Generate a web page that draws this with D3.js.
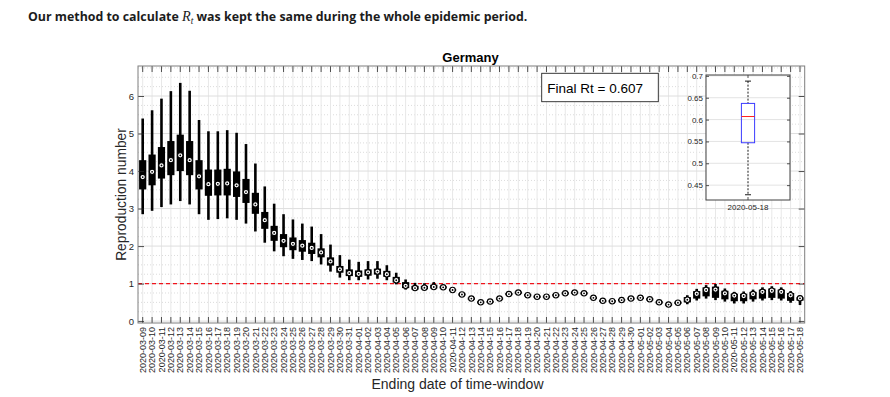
<!DOCTYPE html>
<html><head><meta charset="utf-8">
<script src="https://cdn.jsdelivr.net/npm/d3@7"></script>
<style>body{margin:0;background:#fff;} svg{display:block;}</style>
</head><body>
<svg id="c" width="890" height="397"></svg>
<script>
// ---------- data ----------
const dates = ["2020-03-09","2020-03-10","2020-03-11","2020-03-12","2020-03-13","2020-03-14","2020-03-15","2020-03-16","2020-03-17","2020-03-18",
"2020-03-19","2020-03-20","2020-03-21","2020-03-22","2020-03-23","2020-03-24","2020-03-25","2020-03-26","2020-03-27","2020-03-28",
"2020-03-29","2020-03-30","2020-03-31","2020-04-01","2020-04-02","2020-04-03","2020-04-04","2020-04-05","2020-04-06","2020-04-07",
"2020-04-08","2020-04-09","2020-04-10","2020-04-11","2020-04-12","2020-04-13","2020-04-14","2020-04-15","2020-04-16","2020-04-17",
"2020-04-18","2020-04-19","2020-04-20","2020-04-21","2020-04-22","2020-04-23","2020-04-24","2020-04-25","2020-04-26","2020-04-27",
"2020-04-28","2020-04-29","2020-04-30","2020-05-01","2020-05-02","2020-05-03","2020-05-04","2020-05-05","2020-05-06","2020-05-07",
"2020-05-08","2020-05-09","2020-05-10","2020-05-11","2020-05-12","2020-05-13","2020-05-14","2020-05-15","2020-05-16","2020-05-17","2020-05-18"];
const whiskerHigh = [5.40,5.62,5.93,6.13,6.35,6.14,5.36,5.06,5.06,5.09,
5.02,4.72,4.20,3.59,3.13,2.85,2.71,2.60,2.52,2.32,
2.04,1.76,1.64,1.58,1.60,1.60,1.49,1.29,1.11,1.02,
1.01,1.04,0.96,0.88,0.76,0.65,0.55,0.56,0.65,0.77,
0.81,0.74,0.70,0.70,0.74,0.79,0.81,0.79,0.67,0.59,
0.58,0.61,0.65,0.67,0.63,0.55,0.49,0.54,0.69,0.86,
0.96,0.99,0.87,0.78,0.79,0.84,0.90,0.93,0.90,0.80,0.688];
const quartile3 = [4.29,4.44,4.64,4.80,4.97,4.80,4.29,4.04,4.04,4.06,
3.99,3.79,3.42,2.91,2.54,2.32,2.23,2.16,2.09,1.94,
1.70,1.47,1.38,1.35,1.38,1.40,1.34,1.18,1.04,0.94,
0.94,0.97,0.93,0.86,0.74,0.63,0.53,0.54,0.63,0.75,
0.79,0.72,0.68,0.68,0.72,0.77,0.79,0.77,0.65,0.57,
0.56,0.59,0.63,0.65,0.61,0.53,0.47,0.52,0.64,0.80,
0.90,0.92,0.81,0.73,0.73,0.78,0.84,0.87,0.84,0.75,0.637];
const medians = [3.84,3.98,4.15,4.29,4.42,4.29,3.86,3.65,3.66,3.67,
3.62,3.44,3.11,2.69,2.35,2.14,2.06,2.01,1.95,1.83,
1.59,1.38,1.28,1.26,1.30,1.32,1.25,1.09,0.94,0.88,
0.89,0.91,0.90,0.83,0.71,0.60,0.50,0.52,0.60,0.72,
0.76,0.69,0.65,0.65,0.69,0.74,0.76,0.74,0.62,0.54,
0.53,0.56,0.60,0.62,0.58,0.50,0.44,0.49,0.57,0.73,
0.83,0.84,0.74,0.68,0.67,0.72,0.78,0.81,0.78,0.69,0.607];
const quartile1 = [3.51,3.62,3.80,3.89,4.00,3.89,3.51,3.34,3.35,3.35,
3.31,3.15,2.86,2.46,2.14,1.97,1.89,1.85,1.79,1.70,
1.48,1.29,1.20,1.18,1.21,1.24,1.18,1.03,0.88,0.84,
0.85,0.87,0.87,0.80,0.68,0.57,0.47,0.49,0.57,0.69,
0.73,0.66,0.62,0.62,0.66,0.71,0.73,0.71,0.59,0.51,
0.50,0.53,0.57,0.59,0.55,0.47,0.41,0.46,0.50,0.60,
0.66,0.62,0.58,0.53,0.53,0.58,0.60,0.62,0.60,0.54,0.547];
const whiskerLow = [2.85,2.94,3.04,3.11,3.20,3.11,2.85,2.70,2.72,2.74,
2.70,2.60,2.39,2.09,1.86,1.73,1.66,1.63,1.60,1.51,
1.32,1.16,1.09,1.09,1.11,1.13,1.09,0.98,0.84,0.82,
0.83,0.85,0.85,0.78,0.66,0.55,0.45,0.47,0.55,0.67,
0.71,0.64,0.60,0.60,0.64,0.69,0.71,0.69,0.57,0.49,
0.48,0.51,0.55,0.57,0.53,0.45,0.39,0.44,0.45,0.55,
0.60,0.56,0.52,0.47,0.47,0.52,0.55,0.56,0.55,0.49,0.428];
const yTicks = [0,1,2,3,4,5,6];
const thresholdValue = 1;
const finalRt = 0.607;
const insetCategory = ["2020-05-18"];
const insetLow = [0.428], insetQ1 = [0.547], insetMedian = [0.607], insetQ3 = [0.637], insetHigh = [0.688];
const insetTicks = [0.45,0.5,0.55,0.6,0.65,0.7];
const titleText = "Germany";
const xLabel = "Ending date of time-window";
const yLabel = "Reproduction number";

// ---------- layout ----------
const svg = d3.select("#c");
const L = 138, R = 804.7, T = 66, B = 323;
const axisCol = "#262626", borderCol = "#7f7f7f";
const font = "'Liberation Sans', Arial, Helvetica, sans-serif";

// header
const head = svg.append("text").attr("x", 28).attr("y", 21)
  .attr("font-family", "'Open Sans', 'Noto Sans', sans-serif").attr("font-weight", "bold")
  .attr("fill", "#1c1c1c");
const baseSize = 13;
const p1 = head.append("tspan").text("Our method to calculate ").attr("font-size", baseSize);
const pR = head.append("tspan").text("R").attr("font-family", "'Liberation Serif','DejaVu Serif',serif")
  .attr("font-style", "italic").attr("font-weight", "normal").attr("font-size", baseSize * 1.15);
const pt = head.append("tspan").text("t").attr("font-family", "'Liberation Serif','DejaVu Serif',serif")
  .attr("font-style", "italic").attr("font-weight", "normal").attr("font-size", baseSize * 0.75).attr("dy", 3);
const p2 = head.append("tspan").text(" was kept the same during the whole epidemic period.").attr("font-size", baseSize).attr("dy", -3);
const hw = head.node().getComputedTextLength();
const k = 500 / hw;
p1.attr("font-size", baseSize * k); p2.attr("font-size", baseSize * k);
pR.attr("font-size", baseSize * 1.15 * k); pt.attr("font-size", baseSize * 0.75 * k);

// scales
const x = d3.scaleBand().domain(dates).range([L, R]).padding(0);
const cx = d => x(d) + x.bandwidth() / 2;
const y = d3.scaleLinear().domain([-0.05, 6.8]).range([B, T]);

// background
svg.append("rect").attr("x", L).attr("y", T).attr("width", R - L).attr("height", B - T).attr("fill", "#fff");

// grid
const grid = svg.append("g");
grid.selectAll("line.minor").data(d3.range(0, 6.8, 0.25).filter(v => Math.abs(v - Math.round(v)) > 1e-6))
  .join("line").attr("x1", L).attr("x2", R).attr("y1", d => y(d)).attr("y2", d => y(d))
  .attr("stroke", "#dcdcdc").attr("stroke-width", 1).attr("stroke-dasharray", "1,2");
grid.selectAll("line.vx").data(dates).join("line")
  .attr("x1", d => cx(d)).attr("x2", d => cx(d)).attr("y1", T).attr("y2", B)
  .attr("stroke", "#e8e8e8").attr("stroke-width", 1);
grid.selectAll("line.hy").data(yTicks).join("line")
  .attr("x1", L).attr("x2", R).attr("y1", d => y(d)).attr("y2", d => y(d))
  .attr("stroke", "#dedede").attr("stroke-width", 1);

// threshold line
svg.append("line").attr("x1", L).attr("x2", R).attr("y1", y(thresholdValue)).attr("y2", y(thresholdValue))
  .attr("stroke", "#f0141c").attr("stroke-width", 1.3).attr("stroke-dasharray", "4,3");

// boxes
const boxes = svg.append("g").selectAll("g").data(dates.map((d, i) => ({d, i}))).join("g");
boxes.append("line").attr("x1", o => cx(o.d)).attr("x2", o => cx(o.d))
  .attr("y1", o => y(whiskerLow[o.i])).attr("y2", o => y(whiskerHigh[o.i]))
  .attr("stroke", "#000").attr("stroke-width", 2.6);
boxes.append("rect").attr("x", o => cx(o.d) - 3.6).attr("width", 7.2)
  .attr("y", o => y(quartile3[o.i])).attr("height", o => y(quartile1[o.i]) - y(quartile3[o.i]))
  .attr("fill", "#000");
boxes.append("circle").attr("cx", o => cx(o.d)).attr("cy", o => y(medians[o.i])).attr("r", 2.7)
  .attr("fill", "#fff").attr("stroke", "#000").attr("stroke-width", 1.1);
boxes.append("circle").attr("cx", o => cx(o.d)).attr("cy", o => y(medians[o.i])).attr("r", 0.9)
  .attr("fill", "#000");

// axes
function styleAxis(g) {
  g.select(".domain").remove();
  g.selectAll(".tick line").attr("stroke", axisCol).attr("stroke-width", 0.8);
  g.selectAll(".tick text").attr("fill", axisCol).attr("font-family", font);
}
const xb = svg.append("g").attr("transform", `translate(0,${B})`)
  .call(d3.axisBottom(x).tickSizeInner(-6).tickSizeOuter(0)).call(styleAxis);
xb.selectAll(".tick text").attr("font-size", 9).attr("text-anchor", "end")
  .attr("transform", "rotate(-90)").attr("x", -4).attr("y", 0).attr("dy", "0.35em");
svg.append("g").attr("transform", `translate(0,${T})`)
  .call(d3.axisTop(x).tickSizeInner(-6).tickSizeOuter(0).tickFormat("")).call(styleAxis);
const yl = svg.append("g").attr("transform", `translate(${L},0)`)
  .call(d3.axisLeft(y).tickValues(yTicks).tickFormat(d3.format("d")).tickSizeInner(-6).tickSizeOuter(0).tickPadding(4)).call(styleAxis);
yl.selectAll(".tick text").attr("font-size", 9.5);
svg.append("g").attr("transform", `translate(${R},0)`)
  .call(d3.axisRight(y).tickValues(yTicks).tickSizeInner(-6).tickSizeOuter(0).tickFormat("")).call(styleAxis);
svg.append("rect").attr("x", L).attr("y", T).attr("width", R - L).attr("height", B - T)
  .attr("fill", "none").attr("stroke", borderCol).attr("stroke-width", 1);

// labels
svg.append("text").attr("x", 470.5).attr("y", 62).attr("text-anchor", "middle")
  .attr("font-family", font).attr("font-weight", "bold").attr("font-size", 13).attr("fill", "#000").text(titleText);
svg.append("text").attr("x", 457.5).attr("y", 389).attr("text-anchor", "middle")
  .attr("font-family", font).attr("font-size", 14).attr("fill", axisCol).text(xLabel);
svg.append("text").attr("transform", "translate(126,194.5) rotate(-90)").attr("text-anchor", "middle")
  .attr("font-family", font).attr("font-size", 13.8).attr("fill", axisCol).text(yLabel);

// legend box
svg.append("rect").attr("x", 541.7).attr("y", 73.3).attr("width", 116.6).attr("height", 28.4)
  .attr("fill", "#fff").attr("stroke", "#262626").attr("stroke-width", 0.9);
svg.append("text").attr("x", 547.3).attr("y", 93.3).attr("font-family", font).attr("font-size", 13.5)
  .attr("fill", "#000").text("Final Rt = " + finalRt);

// inset
const IL = 706, IR = 790, IT = 75, IB = 200;
const ix = d3.scaleBand().domain(insetCategory).range([IL, IR]);
const icx = d => ix(d) + ix.bandwidth() / 2;
const iy = d3.scaleLinear().domain([0.416, 0.702]).range([IB, IT]);
svg.append("rect").attr("x", IL).attr("y", IT).attr("width", IR - IL).attr("height", IB - IT).attr("fill", "#fff");
svg.append("g").selectAll("line").data(insetTicks).join("line")
  .attr("x1", IL).attr("x2", IR).attr("y1", d => iy(d)).attr("y2", d => iy(d))
  .attr("stroke", "#e3e3e3").attr("stroke-width", 1);
const ib = svg.append("g").selectAll("g").data(insetCategory.map((d, i) => ({d, i}))).join("g");
ib.append("line").attr("x1", o => icx(o.d)).attr("x2", o => icx(o.d))
  .attr("y1", o => iy(insetHigh[o.i])).attr("y2", o => iy(insetQ3[o.i]))
  .attr("stroke", "#000").attr("stroke-width", 0.9).attr("stroke-dasharray", "2,1.5");
ib.append("line").attr("x1", o => icx(o.d)).attr("x2", o => icx(o.d))
  .attr("y1", o => iy(insetQ1[o.i])).attr("y2", o => iy(insetLow[o.i]))
  .attr("stroke", "#000").attr("stroke-width", 0.9).attr("stroke-dasharray", "2,1.5");
ib.append("line").attr("x1", o => icx(o.d) - 3).attr("x2", o => icx(o.d) + 3)
  .attr("y1", o => iy(insetHigh[o.i])).attr("y2", o => iy(insetHigh[o.i])).attr("stroke", "#000").attr("stroke-width", 0.9);
ib.append("line").attr("x1", o => icx(o.d) - 3).attr("x2", o => icx(o.d) + 3)
  .attr("y1", o => iy(insetLow[o.i])).attr("y2", o => iy(insetLow[o.i])).attr("stroke", "#000").attr("stroke-width", 0.9);
ib.append("rect").attr("x", o => icx(o.d) - 6.6).attr("width", 13.2)
  .attr("y", o => iy(insetQ3[o.i])).attr("height", o => iy(insetQ1[o.i]) - iy(insetQ3[o.i]))
  .attr("fill", "none").attr("stroke", "#3b3bff").attr("stroke-width", 1);
ib.append("line").attr("x1", o => icx(o.d) - 6.6).attr("x2", o => icx(o.d) + 6.6)
  .attr("y1", o => iy(insetMedian[o.i])).attr("y2", o => iy(insetMedian[o.i]))
  .attr("stroke", "#ff2020").attr("stroke-width", 1);
const iyl = svg.append("g").attr("transform", `translate(${IL},0)`)
  .call(d3.axisLeft(iy).tickValues(insetTicks).tickFormat(d3.format("")).tickSizeInner(-3).tickSizeOuter(0).tickPadding(3)).call(styleAxis);
iyl.selectAll(".tick text").attr("font-size", 8);
svg.append("g").attr("transform", `translate(${IR},0)`)
  .call(d3.axisRight(iy).tickValues(insetTicks).tickFormat("").tickSizeInner(-3).tickSizeOuter(0)).call(styleAxis);
const ixb = svg.append("g").attr("transform", `translate(0,${IB})`)
  .call(d3.axisBottom(ix).tickSizeInner(-3).tickSizeOuter(0).tickPadding(4)).call(styleAxis);
ixb.selectAll(".tick text").attr("font-size", 8);
svg.append("g").attr("transform", `translate(0,${IT})`)
  .call(d3.axisTop(ix).tickSizeInner(-3).tickSizeOuter(0).tickFormat("")).call(styleAxis);
svg.append("rect").attr("x", IL).attr("y", IT).attr("width", IR - IL).attr("height", IB - IT)
  .attr("fill", "none").attr("stroke", "#404040").attr("stroke-width", 1);
</script>
</body></html>
